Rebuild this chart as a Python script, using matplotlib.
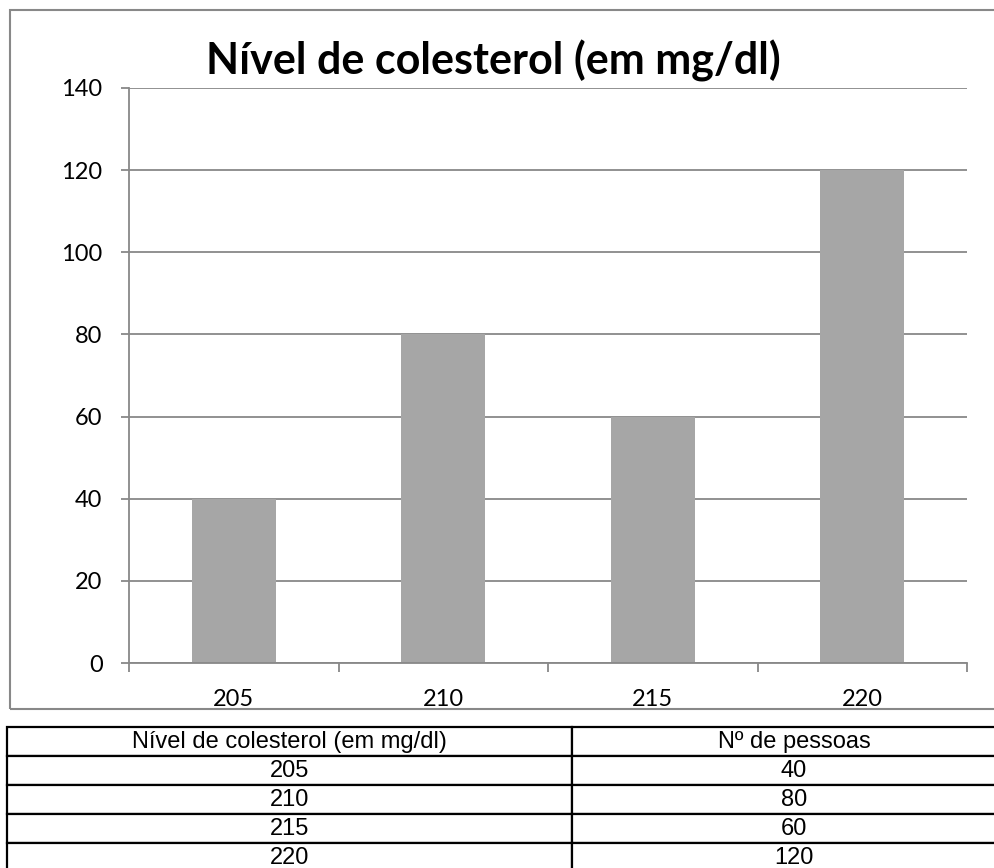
import matplotlib.pyplot as plt
from matplotlib.patches import Rectangle

# dados
niveis = ['205', '210', '215', '220']
pessoas = [40, 80, 60, 120]
titulo = 'Nível de colesterol (em mg/dl)'
cabecalho = ['Nível de colesterol (em mg/dl)', 'Nº de pessoas']
yticks = [0, 20, 40, 60, 80, 100, 120, 140]

W, H = 994, 868
cinza = '#888888'

fig = plt.figure(figsize=(W / 100, H / 100), dpi=100)


def box(l, t, r, b):
    # pixel box -> figure fraction [left, bottom, width, height]
    return [l / W, 1 - b / H, (r - l) / W, (b - t) / H]


# moldura do grafico
fig.patches.append(Rectangle((9.5 / W, 1 - 709 / H), (1010 - 9.5) / W, (709 - 9.5) / H,
                             transform=fig.transFigure, fill=False, ec=cinza, lw=1.5))

fig.text(493 / W, 1 - 75 / H, titulo, ha='center', va='baseline',
         fontsize=31, fontweight='bold', family='Lato')

# -------------------------
# grafico de barras
# -------------------------
ax = fig.add_axes(box(129, 88, 967, 663))
x = list(range(len(niveis)))
ax.bar(x, pessoas, width=0.4, color='#a6a6a6', zorder=2)
ax.set_xlim(-0.5, len(niveis) - 0.5)
ax.set_ylim(yticks[0], yticks[-1])
ax.set_yticks(yticks)
ax.yaxis.grid(True, color=cinza, lw=1.3)
ax.set_axisbelow(True)
for s in ['top', 'right']:
    ax.spines[s].set_visible(False)
for s in ['left', 'bottom']:
    ax.spines[s].set_color(cinza)
    ax.spines[s].set_linewidth(1.3)

ax.set_xticks(x)
ax.set_xticklabels(niveis)
ax.set_xticks([i - 0.5 for i in range(len(niveis) + 1)], minor=True)
ax.tick_params(axis='x', which='major', length=0, pad=18.5)
ax.tick_params(axis='x', which='minor', length=6.5, width=1.3, color=cinza)
ax.tick_params(axis='y', length=6, width=1.3, color=cinza, pad=13)
for lab in ax.get_xticklabels() + ax.get_yticklabels():
    lab.set_family('Lato')
    lab.set_fontsize(17)

# -------------------------
# tabela
# -------------------------
linhas = [[n, str(p)] for n, p in zip(niveis, pessoas)]
ax2 = fig.add_axes(box(7, 727, 1016, 727 + 5 * 29))
ax2.axis('off')
tab = ax2.table(cellText=linhas, colLabels=cabecalho, bbox=[0, 0, 1, 1],
                cellLoc='center', colWidths=[565, 444])
tab.auto_set_font_size(False)
for cell in tab.get_celld().values():
    cell.set_linewidth(1.6)
    cell.set_edgecolor('black')
    cell.get_text().set_family('Liberation Sans')
    cell.get_text().set_fontsize(17)

fig.savefig('out.png', dpi=100)
